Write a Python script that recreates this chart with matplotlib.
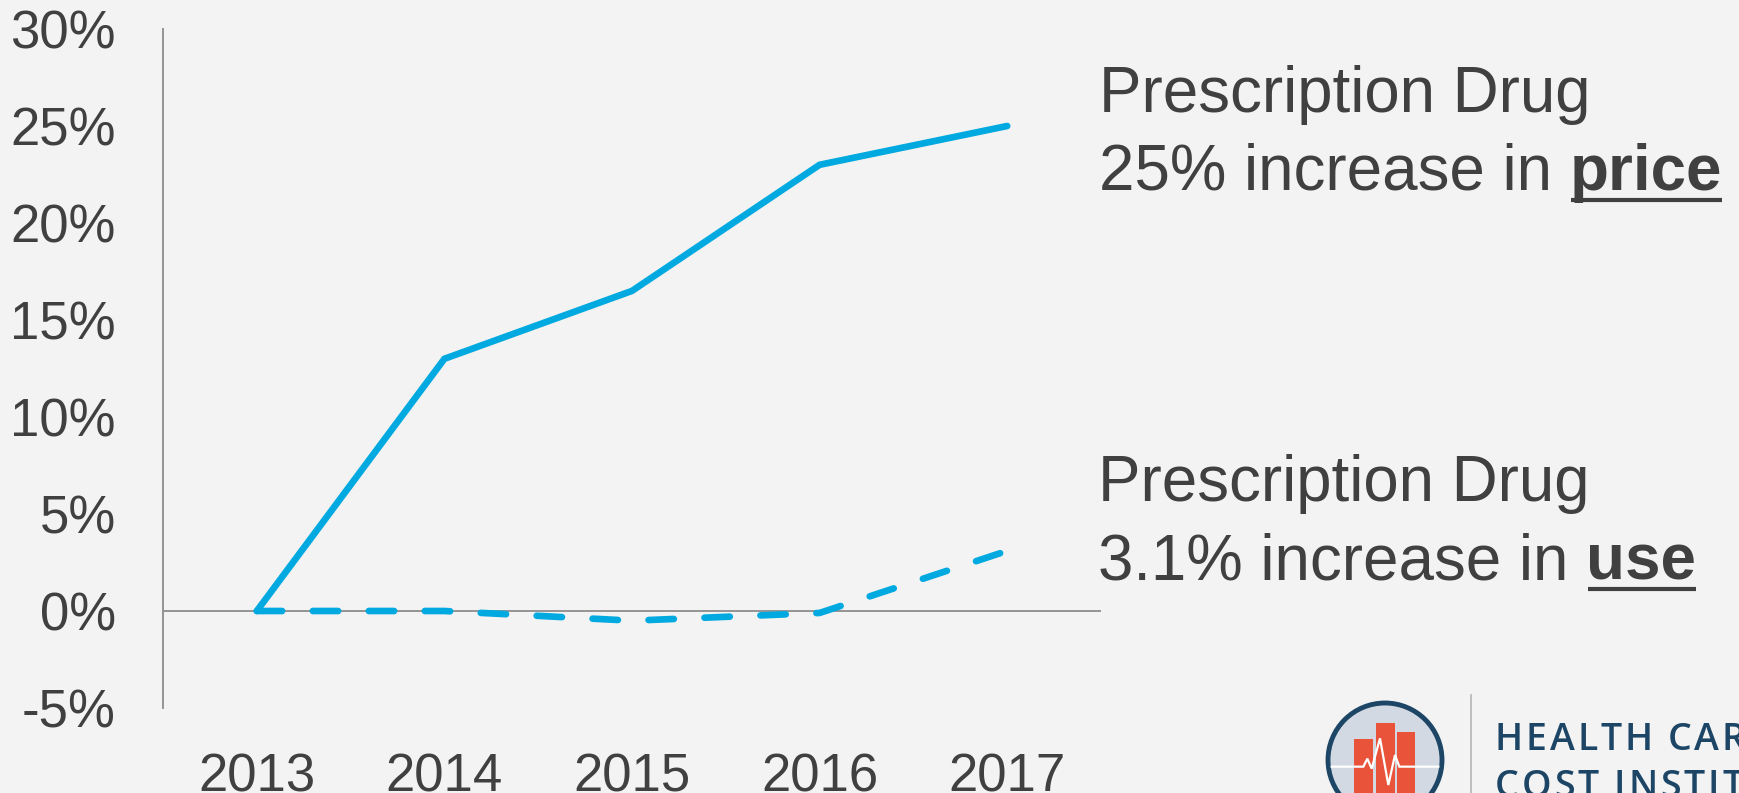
import matplotlib
matplotlib.use("Agg")
import matplotlib.pyplot as plt
from matplotlib.patches import Circle, Rectangle
from matplotlib.lines import Line2D

# ---- data ----
years = ["2013", "2014", "2015", "2016", "2017"]
price_change = [0.0, 13.0, 16.5, 23.0, 25.0]
use_change = [0.0, 0.0, -0.5, -0.1, 3.1]
y_ticks = [-5, 0, 5, 10, 15, 20, 25, 30]
y_tick_labels = ["-5%", "0%", "5%", "10%", "15%", "20%", "25%", "30%"]
price_lines = ["Prescription Drug", "25% increase in ", "price"]
use_lines = ["Prescription Drug", "3.1% increase in ", "use"]
logo_lines = ["HEALTH CARE", "COST INSTITUTE"]

W, H = 1740, 793
DPI = 100
BG = "#F3F3F3"
TXT = "#404040"
BLUE = "#00A9E0"
GRAY = "#8C8C8C"
FONT = "Liberation Sans"

fig = plt.figure(figsize=(W / DPI, H / DPI), dpi=DPI, facecolor=BG)


def fx(x):
    return x / W


def fy(y):
    return 1 - y / H


# ---- main axes ----
ax = fig.add_axes([fx(163), fy(708), (1101 - 163) / W, (708 - 29) / H])
ax.set_facecolor("none")
xs = list(range(len(years)))
lw = 4.8
ax.plot(xs, price_change, color=BLUE, lw=lw, solid_capstyle="round",
        solid_joinstyle="miter", zorder=3)
ax.plot(xs, use_change, color=BLUE, lw=lw, dashes=(3.8, 4.6),
        dash_capstyle="round", zorder=3)
ax.axhline(0, color=GRAY, lw=1.3, zorder=2)
ax.set_xlim(-0.5, len(years) - 0.5)
ax.set_ylim(-5, 30)
for s in ["top", "right", "bottom"]:
    ax.spines[s].set_visible(False)
ax.spines["left"].set_color(GRAY)
ax.spines["left"].set_linewidth(1.3)
ax.set_xticks(xs)
ax.set_xticklabels(years, fontsize=38, family=FONT, color=TXT)
ax.set_yticks(y_ticks)
ax.set_yticklabels(y_tick_labels, fontsize=38, family=FONT, color=TXT)
ax.tick_params(axis="x", length=0, pad=32)
ax.tick_params(axis="y", length=0, pad=34)

# ---- annotation text ----
FS = 45.8
blocks = [(price_lines, 1099, 112, 190), (use_lines, 1098, 501, 579)]
pending = []
for lines, x, b1, b2 in blocks:
    fig.text(fx(x), fy(b1), lines[0], fontsize=FS, family=FONT, color=TXT, va="baseline")
    t1 = fig.text(fx(x), fy(b2), lines[1].rstrip(), fontsize=FS, family=FONT,
                  color=TXT, va="baseline")
    pending.append((t1, lines[2], b2))

fig.canvas.draw()
r = fig.canvas.get_renderer()
space_px = 0.278 * FS * DPI / 72
for t1, word, b2 in pending:
    bb = t1.get_window_extent(r)
    x2 = bb.x1 + space_px
    t2 = fig.text(x2 / W, fy(b2), word, fontsize=FS, family=FONT, color=TXT,
                  fontweight="bold", va="baseline")
    fig.canvas.draw()
    bb2 = t2.get_window_extent(r)
    uy = fy(b2 + 10)
    fig.add_artist(Line2D([bb2.x0 / W + 0.001, bb2.x1 / W], [uy, uy], color=TXT,
                          lw=3.0, solid_capstyle="butt"))

# ---- logo (decoration) ----
lax = fig.add_axes([0, 0, 1, 1])
lax.set_xlim(0, W)
lax.set_ylim(H, 0)
lax.axis("off")
lax.set_facecolor("none")
circ = Circle((1385, 760), 57, facecolor="#D3D9E2", edgecolor="#1C4566", lw=3.5, zorder=2)
lax.add_patch(circ)
clip = Circle((1385, 760), 57, transform=lax.transData)
for x0, x1, top in [(1354, 1373, 739), (1376, 1395, 723), (1397, 1415, 732)]:
    rct = Rectangle((x0, top), x1 - x0, 120, facecolor="#E8533A", edgecolor="none", zorder=3)
    lax.add_patch(rct)
    rct.set_clip_path(clip)
ecg_x = [155, 250, 262, 275, 300, 325, 345, 358, 475]
ecg_y = [290, 290, 266, 296, 205, 345, 255, 290, 290]
ln, = lax.plot([v / 3 + 1280 for v in ecg_x], [v / 3 + 670 for v in ecg_y],
               color="white", lw=1.6, zorder=4, solid_joinstyle="miter")
ln.set_clip_path(clip)
lax.plot([1471, 1471], [695, H], color="#B5B5B5", lw=1.2, zorder=2)

# letter-spaced logo wordmark
fig.canvas.draw()
r = fig.canvas.get_renderer()
track = 2.8
for line, base in zip(logo_lines, [750, 797]):
    cx = 1495.0
    for ch in line:
        t = lax.text(cx, base, ch, fontsize=27, family="Open Sans", color="#1C4566",
                     fontweight="semibold", va="baseline", ha="left", zorder=5)
        if ch == " ":
            adv = 0.26 * 27 * DPI / 72
        else:
            adv = t.get_window_extent(r).width
        cx += adv + track

fig.savefig("out.png", dpi=DPI, facecolor=BG)
